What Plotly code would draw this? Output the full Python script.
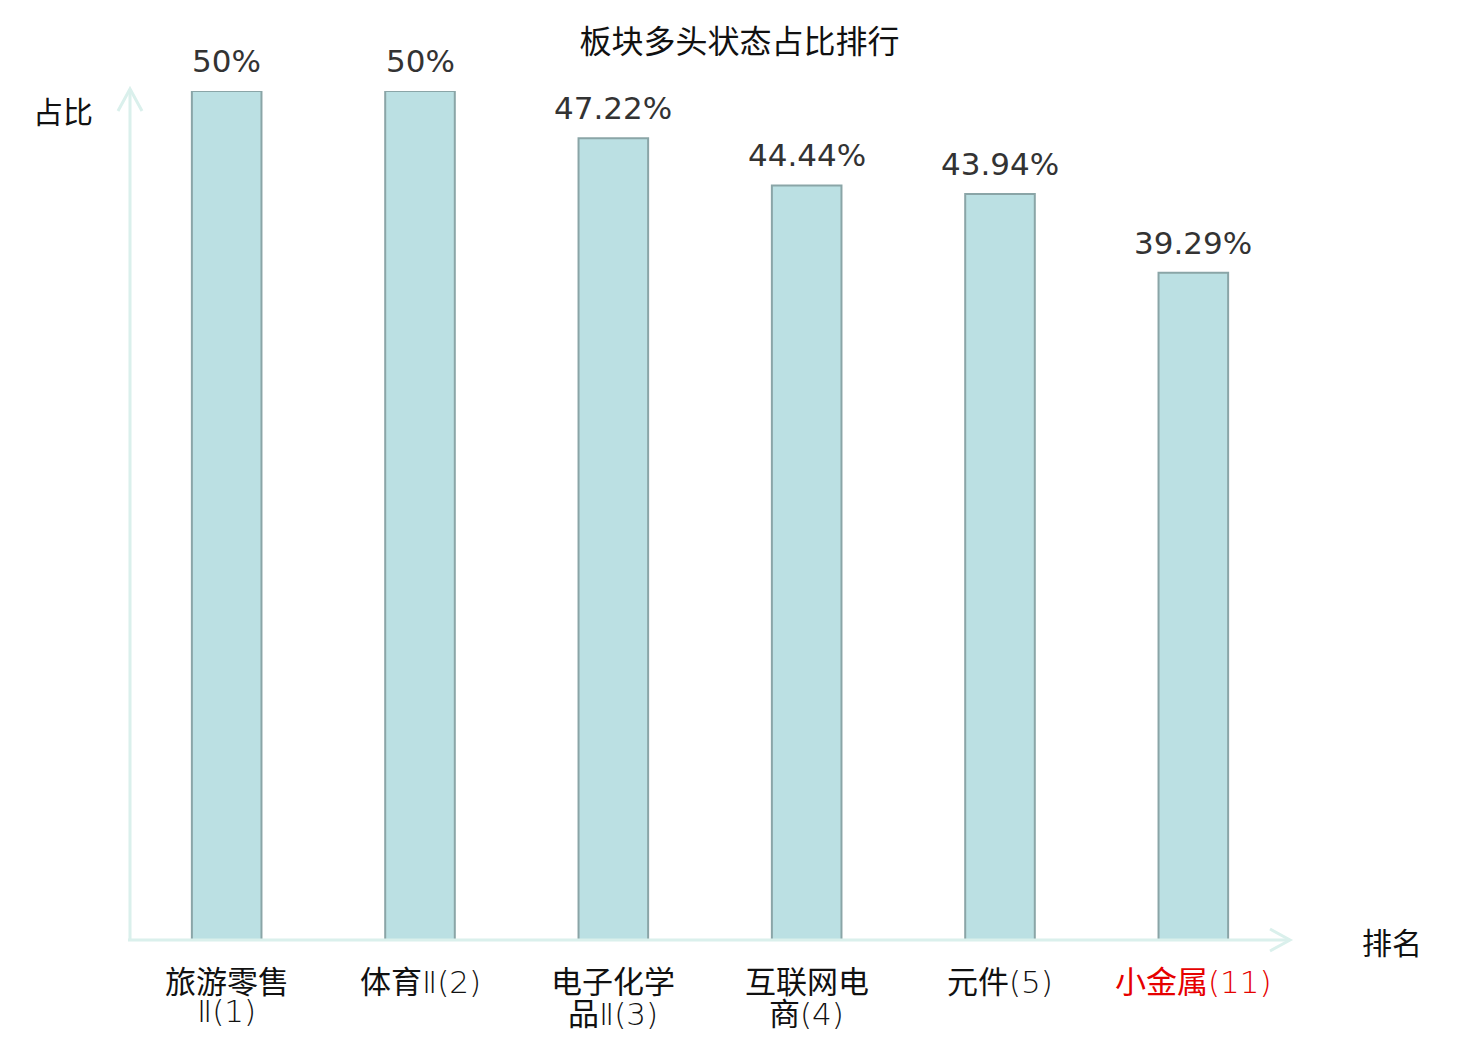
import re
import plotly.graph_objects as go

# data
categories = ["旅游零售Ⅱ(1)", "体育Ⅱ(2)", "电子化学品Ⅱ(3)", "互联网电商(4)", "元件(5)", "小金属(11)"]
label_line1 = ["旅游零售", "体育Ⅱ(2)", "电子化学", "互联网电", "元件(5)", "小金属(11)"]
label_line2 = ["Ⅱ(1)", "", "品Ⅱ(3)", "商(4)", "", ""]
label_colors = ["#111111", "#111111", "#111111", "#111111", "#111111", "#e60000"]
ratios = [50, 50, 47.22, 44.44, 43.94, 39.29]
ratio_labels = ["50%", "50%", "47.22%", "44.44%", "43.94%", "39.29%"]

# page has an 8px body margin, so the figure is a bit smaller than the window
W, H = 1472, 1032
ML, MR, MT, MB = 122, 190, 83, 100
PW, PH = W - ML - MR, H - MT - MB  # plot area in px

axis_color = "#daf0ec"
cjk = "Noto Sans CJK SC"

fig = go.Figure()
fig.add_trace(go.Bar(
    x=categories,
    y=ratios,
    marker=dict(color="#bbe0e3", line=dict(color="#8aa5a7", width=2)),
    hoverinfo="skip",
))


def px_x(p):
    return p / PW


def px_y(p):
    return p / PH


def styled(label):
    # chinese part regular, the roman numeral / number part in a thin latin face
    m = re.match(r"^([\u4e00-\u9fff]*)(.*)$", label)
    han, rest = m.group(1), m.group(2)
    if rest:
        rest = f"<span style=\"font-family:DejaVu Sans;font-weight:200\">{rest}</span>"
    return han + rest


# axis lines with open arrow heads
shapes = [
    dict(type="line", xref="paper", yref="paper", x0=0, y0=0, x1=0, y1=1 + px_y(2),
         line=dict(color=axis_color, width=3)),
    dict(type="path", xref="paper", yref="paper",
         path=f"M {-px_x(12)},{1 - px_y(20)} L 0,{1 + px_y(2)} L {px_x(12)},{1 - px_y(20)}",
         line=dict(color=axis_color, width=3)),
    dict(type="line", xref="paper", yref="paper", x0=-px_x(2), y0=0, x1=1, y1=0,
         line=dict(color=axis_color, width=3)),
    dict(type="path", xref="paper", yref="paper",
         path=f"M {1 - px_x(20)},{px_y(11)} L 1,0 L {1 - px_x(20)},{-px_y(11)}",
         line=dict(color=axis_color, width=3)),
]

annotations = [
    dict(text="占比", xref="paper", yref="paper", x=-px_x(67), y=1 - px_y(19),
         xanchor="center", yanchor="middle", showarrow=False,
         font=dict(family=cjk, size=30, color="#111111")),
    dict(text="排名", xref="paper", yref="paper", x=1 + px_x(102), y=-px_y(1),
         xanchor="center", yanchor="middle", showarrow=False,
         font=dict(family=cjk, size=30, color="#111111")),
]

# value labels above bars
for cat, val, lab in zip(categories, ratios, ratio_labels):
    annotations.append(dict(
        x=cat, y=val, text=lab, xref="x", yref="y", showarrow=False,
        xanchor="center", yanchor="middle", yshift=30,
        font=dict(family="DejaVu Sans", size=31, color="#333333"),
    ))

# category labels, two lines each
for cat, l1, l2, col in zip(categories, label_line1, label_line2, label_colors):
    for txt, shift in ((l1, -39), (l2, -71)):
        if txt:
            annotations.append(dict(
                x=cat, y=0, text=styled(txt), xref="x", yref="paper", showarrow=False,
                xanchor="center", yanchor="middle", yshift=shift,
                font=dict(family=cjk, size=31, color=col),
            ))

fig.update_layout(
    width=W, height=H,
    margin=dict(l=ML, r=MR, t=MT, b=MB),
    paper_bgcolor="white", plot_bgcolor="white",
    showlegend=False,
    bargap=0.64,
    title=dict(text="板块多头状态占比排行", x=0.497, xanchor="center",
               y=1 - 34 / H, yanchor="middle",
               font=dict(family=cjk, size=32, color="#111111")),
    xaxis=dict(showline=False, showgrid=False, zeroline=False, ticks="",
               showticklabels=False),
    yaxis=dict(range=[0, 50], showline=False, showgrid=False, zeroline=False,
               showticklabels=False, ticks=""),
    shapes=shapes,
    annotations=annotations,
)

fig.write_html("out.html")
